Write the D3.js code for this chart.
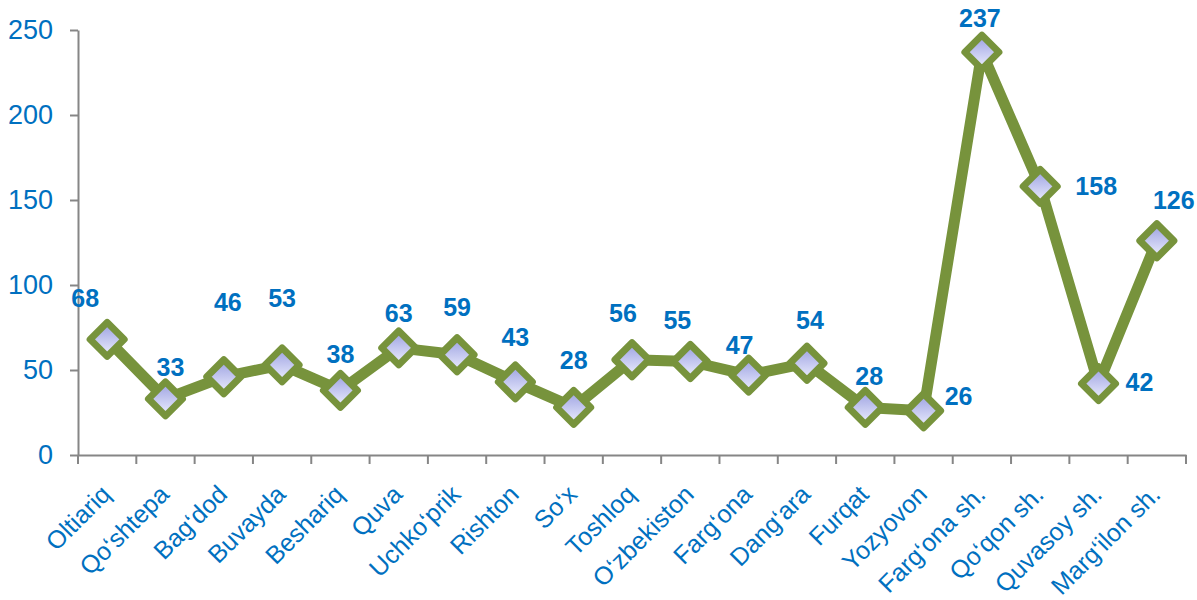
<!DOCTYPE html>
<html>
<head>
<meta charset="utf-8">
<script src="https://cdn.jsdelivr.net/npm/d3@7"></script>
<style>
  body { margin: 0; background: #fff; }
  svg { display: block; font-family: "Liberation Sans", Arial, sans-serif; }
  .axis text { fill: #0070C0; }
  .axis .domain, .axis line { stroke: #868686; stroke-width: 2; }
</style>
</head>
<body>
<div id="chart"></div>
<script>
// districts / cities
const categories = [
  'Oltiariq', 'Qo\u2018shtepa', 'Bag\u2018dod', 'Buvayda', 'Beshariq', 'Quva',
  'Uchko\u2018prik', 'Rishton', 'So\u2018x', 'Toshloq', 'O\u2018zbekiston',
  'Farg\u2018ona', 'Dang\u2018ara', 'Furqat', 'Yozyovon', 'Farg\u2018ona sh.',
  'Qo\u2018qon sh.', 'Quvasoy sh.', 'Marg\u2018ilon sh.'
];
const values = [68, 33, 46, 53, 38, 63, 59, 43, 28, 56, 55, 47, 54, 28, 26, 237, 158, 42, 126];
const yTicks = [0, 50, 100, 150, 200, 250];

// where each value label sits relative to its point (layout, not data)
const labelDx = [-22, 5, 4, 0, 0, 0, 0, 0, 0, -9, -13, -9, 3, 4, 35, -2, 56, 41, 17];
const labelDy = [-41, -32, -75, -67, -36, -35, -48, -45, -47, -47, -42, -30, -43, -31, -15, -34, 0, -2, -41];

const width = 1197;
const height = 600;
const margin = { top: 30, right: 11, bottom: 145, left: 78 };

const svg = d3.select('#chart')
  .append('svg')
  .attr('width', width)
  .attr('height', height);

const defs = svg.append('defs');
const grad = defs.append('linearGradient')
  .attr('id', 'markerFill')
  .attr('x1', 0).attr('y1', 0).attr('x2', 0).attr('y2', 1);
grad.append('stop').attr('offset', '0%').attr('stop-color', '#9a9fe0');
grad.append('stop').attr('offset', '100%').attr('stop-color', '#eef0ff');

const x = d3.scaleBand()
  .domain(categories)
  .range([margin.left, width - margin.right]);

const y = d3.scaleLinear()
  .domain([0, 250])
  .range([height - margin.bottom, margin.top]);

// y axis
const yAxis = svg.append('g')
  .attr('class', 'axis')
  .attr('transform', `translate(${margin.left},0)`)
  .call(d3.axisLeft(y).tickValues(yTicks).tickSize(8).tickPadding(17).tickSizeOuter(0));
yAxis.selectAll('text').attr('font-size', 27);

// x axis, ticks between categories
const xAxis = svg.append('g')
  .attr('class', 'axis')
  .attr('transform', `translate(0,${y(0)})`)
  .call(d3.axisBottom(x).tickSize(0).tickSizeOuter(0).tickFormat(''));

const bounds = d3.range(categories.length + 1).map(i => margin.left + i * x.step());
xAxis.selectAll('.sep')
  .data(bounds)
  .enter()
  .append('line')
  .attr('x1', d => d).attr('x2', d => d)
  .attr('y1', 0).attr('y2', 9);

// rotated category labels
svg.append('g')
  .selectAll('text')
  .data(categories)
  .enter()
  .append('text')
  .attr('transform', d => `translate(${x(d) + x.bandwidth() / 2 + 5},${y(0) + 41}) rotate(-45)`)
  .attr('text-anchor', 'end')
  .attr('font-size', 25)
  .attr('fill', '#0070C0')
  .text(d => d);

const cx = (d, i) => x(categories[i]) + x.bandwidth() / 2;

// the line
svg.append('path')
  .datum(values)
  .attr('fill', 'none')
  .attr('stroke', '#77933C')
  .attr('stroke-width', 11)
  .attr('stroke-linejoin', 'round')
  .attr('d', d3.line().x(cx).y(d => y(d)));

// diamond markers
const r = 17;
svg.append('g')
  .selectAll('path')
  .data(values)
  .enter()
  .append('path')
  .attr('transform', (d, i) => `translate(${cx(d, i)},${y(d)})`)
  .attr('d', `M0,${-r}L${r},0L0,${r}L${-r},0Z`)
  .attr('fill', 'url(#markerFill)')
  .attr('stroke', '#77933C')
  .attr('stroke-width', 7)
  .attr('stroke-linejoin', 'round');

// value labels
svg.append('g')
  .selectAll('text')
  .data(values)
  .enter()
  .append('text')
  .attr('x', (d, i) => cx(d, i) + labelDx[i])
  .attr('y', (d, i) => y(d) + labelDy[i])
  .attr('dy', '0.36em')
  .attr('text-anchor', 'middle')
  .attr('font-size', 25)
  .attr('font-weight', 'bold')
  .attr('fill', '#0070C0')
  .text(d => d);
</script>
</body>
</html>
